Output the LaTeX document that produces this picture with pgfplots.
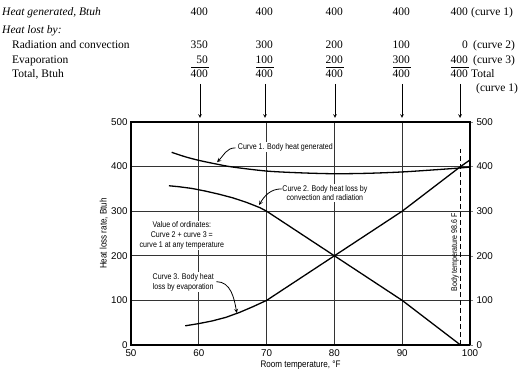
\documentclass[border=0pt]{standalone}
\usepackage{fontspec}
\setmainfont{Liberation Serif}
\newfontfamily\cond[FakeStretch=0.85]{Liberation Sans}
\newfontfamily\sans{Liberation Sans}
\usepackage{pgfplots}
\pgfplotsset{compat=1.18}
\begin{document}
\begin{tikzpicture}[x=1pt,y=1pt]
\path[use as bounding box] (0,0) rectangle (520,374);
\begin{axis}[at={(131pt,29pt)}, anchor=south west, scale only axis,
  width=339pt, height=223pt,
  xmin=50, xmax=100, ymin=0, ymax=500,
  xtick={50,60,...,100}, ytick={0,100,...,500},
  grid=major, grid style={black!80, line width=0.8pt},
  axis line style={line width=1.1pt},
  major tick length=0pt,
  xtick pos=bottom, ytick pos=left,
  clip=false,
  /pgf/number format/assume math mode=true,
  tick label style={font=\sans\fontsize{9.8}{10}\selectfont},
  xticklabel style={yshift=-1.5pt},
  xlabel={Room temperature, \textdegree F},
  ylabel={Heat loss rate, Btuh},
  label style={font=\cond\fontsize{9.5}{10}\selectfont},
  xlabel style={at={(axis description cs:0.5,-0.09)}, anchor=center},
  ylabel style={at={(axis description cs:-0.08,0.5)}, anchor=center},
]
% curve 1
\addplot[black, line width=1.3pt, smooth] coordinates {
(56,432) (58,422) (60,414) (62.5,406) (65,399) (70,390) (75,386) (80,384) (85,385) (90,388) (95,393) (98.6,397) (100,399)};
% curve 2
\addplot[black, line width=1.3pt] coordinates {
(55.6,357) (57,355) (59,351) (61,345) (63,338) (65,330) (67,320) (69,308) (70,300) (72,280) (75,250) (80,200) (90,100) (98.6,0)};
% curve 3
\addplot[black, line width=1.3pt] coordinates {
(58,43) (60,48) (62,54) (64,62) (66,73) (68,86) (70,100) (72,120) (75,150) (80,200) (90,300) (98.6,400) (100,415)};
% body temperature line
\addplot[black, line width=0.9pt, dash pattern=on 5pt off 3pt] coordinates {(98.6,0) (98.6,440)};

\node[anchor=west, font=\cond\fontsize{8.3}{9}\selectfont, fill=white, inner sep=1pt] at (axis cs:65.6,444) {Curve 1. Body heat generated};
\draw[->, >=stealth, line width=0.8pt] (axis cs:65.4,442) to[out=180,in=45] (axis cs:62.7,410);

\node[align=center, font=\cond\fontsize{8.3}{9.3}\selectfont, fill=white, inner sep=1pt] at (axis cs:78.6,341) {Curve 2. Body heat loss by\\convection and radiation};
\draw[->, >=stealth, line width=0.8pt] (axis cs:72.2,350) to[out=180,in=60] (axis cs:68.9,314);

\node[align=center, font=\cond\fontsize{8.3}{9.8}\selectfont, fill=white, inner sep=1pt] at (axis cs:57.5,246) {Value of ordinates:\\Curve 2 + curve 3 =\\curve 1 at any temperature};

\node[align=center, font=\cond\fontsize{8.3}{9.8}\selectfont, fill=white, inner sep=1pt] at (axis cs:57.7,141) {Curve 3. Body heat\\loss by evaporation};
\draw[->, >=stealth, line width=0.8pt] (axis cs:62.6,142) to[out=0,in=100] (axis cs:65.6,72);

\node[rotate=90, font=\cond\fontsize{8.3}{9}\selectfont] at (axis cs:97.8,208) {Body temperature 98.6 F};
\end{axis}
\begin{axis}[at={(131pt,29pt)}, anchor=south west, scale only axis,
  width=339pt, height=223pt,
  xmin=50, xmax=100, ymin=0, ymax=500,
  ytick={0,100,...,500},
  axis x line=none, axis y line*=right,
  axis line style={line width=1.1pt, -},
  tick align=outside, major tick length=3pt,
  /pgf/number format/assume math mode=true,
  tick label style={font=\sans\fontsize{9.8}{10}\selectfont},
]
\addplot[draw=none] coordinates {(50,0)};
\end{axis}
% table
\begin{scope}[every node/.style={font=\fontsize{11.5}{12}\selectfont, inner sep=0pt}]
\node[anchor=base west] at (2,358) {\itshape Heat generated, Btuh};
\node[anchor=base west] at (2,340) {\itshape Heat lost by:};
\node[anchor=base west] at (12,325) {Radiation and convection};
\node[anchor=base west] at (12,310) {Evaporation};
\node[anchor=base west] at (12,296) {Total, Btuh};
\foreach \x in {208,273,343,410,468}{
  \node[anchor=base east] at (\x,358) {400};
  \node[anchor=base east] at (\x,296) {400};
  \draw[line width=0.6pt] (\x-17,307) -- (\x+0.5,307);
  \draw[->, >=stealth, line width=0.7pt] (\x-8,290) -- (\x-8,256);
}
\node[anchor=base east] at (208,325) {350};
\node[anchor=base east] at (273,325) {300};
\node[anchor=base east] at (343,325) {200};
\node[anchor=base east] at (410,325) {100};
\node[anchor=base east] at (468,325) {0};
\node[anchor=base east] at (208,310) {50};
\node[anchor=base east] at (273,310) {100};
\node[anchor=base east] at (343,310) {200};
\node[anchor=base east] at (410,310) {300};
\node[anchor=base east] at (468,310) {400};
\node[anchor=base west] at (471,358) {(curve 1)};
\node[anchor=base west] at (473,325) {(curve 2)};
\node[anchor=base west] at (473,310) {(curve 3)};
\node[anchor=base west] at (471,296) {Total};
\node[anchor=base west] at (476,282) {(curve 1)};
\end{scope}
\end{tikzpicture}
\end{document}
